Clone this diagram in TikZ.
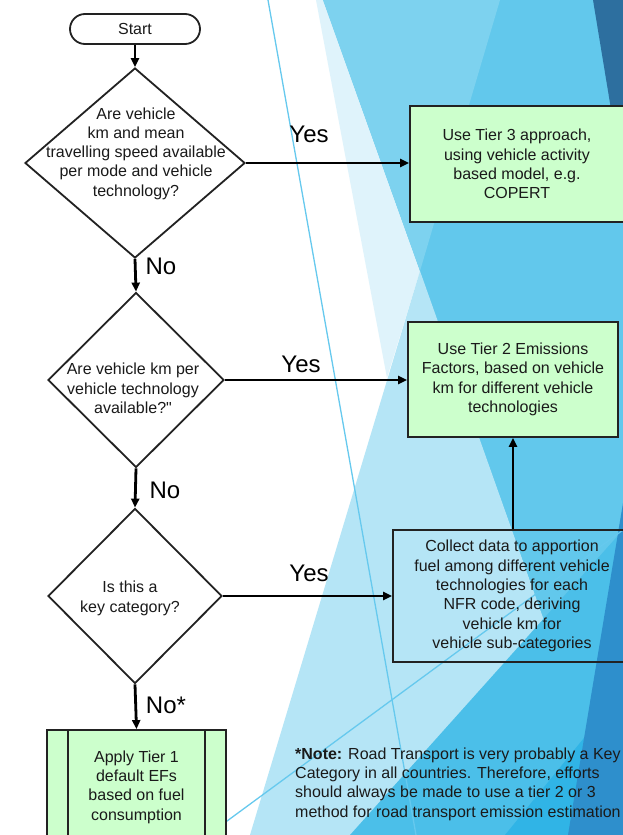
\documentclass[tikz,border=0pt]{standalone}
\usepackage{fontspec}
\setmainfont{Liberation Sans}
\usetikzlibrary{shapes.geometric,arrows.meta}
\definecolor{txt}{HTML}{1A1A1A}
\definecolor{bord}{HTML}{222222}
\definecolor{gfill}{HTML}{CCFFCC}
\definecolor{bgP}{HTML}{DFF3FB}
\definecolor{bgL1}{HTML}{7DD2EF}
\definecolor{bgM}{HTML}{62C8EC}
\definecolor{bgLB}{HTML}{B5E5F6}
\definecolor{bgMB}{HTML}{4BBFE9}
\definecolor{bgMB2}{HTML}{30B4E6}
\definecolor{bgD1}{HTML}{2D6F9F}
\definecolor{bgD2}{HTML}{2E8FCC}
\definecolor{bgLine}{HTML}{66C9EE}
\begin{document}
\begin{tikzpicture}[x=1pt,y=-1pt,
  every node/.style={font=\fontsize{16}{19.3}\selectfont, text=txt},
  dia/.style={draw=bord, line width=1.8pt, shape=diamond, fill=white, inner sep=0pt},
  gbox/.style={draw=bord, line width=1.8pt, fill=gfill, align=center, inner sep=0pt},
  obox/.style={draw=bord, line width=1.8pt, align=center, inner sep=0pt},
  conn/.style={line width=2.8pt, draw=black, -{Triangle[length=9pt,width=8pt]}},
  lab/.style={font=\fontsize{24}{28}\selectfont, text=black},
  dtext/.style={align=center, inner sep=0pt},
  bgline/.style={draw=bgLine, line width=1.3pt},
]
\useasboundingbox (0,0) rectangle (623,835);
\clip (0,0) rectangle (623,835);
% background
\fill[white] (0,0) rectangle (623,835);
\fill[bgM] (323,0) -- (623,0) -- (623,835) -- (620,835) -- cycle;
\fill[bgP] (316,0) -- (323,0) -- (420,271) -- (387,378) -- cycle;
\fill[bgL1] (323,0) -- (500,0) -- (420,271) -- cycle;
\fill[bgLB] (420,271) -- (250,835) -- (620,835) -- cycle;
\fill[bgMB] (350,835) -- (623,530) -- (623,835) -- cycle;
\fill[bgMB2] (505,835) -- (623,690) -- (623,835) -- cycle;
\fill[bgD2] (623,503) -- (623,835) -- (568,835) -- cycle;
\fill[bgD1] (593,0) -- (623,0) -- (623,182) -- cycle;
\draw[bgline] (268,0) -- (416,835);
\draw[bgline] (208,835) -- (623,530);

% nodes
\node[draw=bord, line width=1.8pt, rounded corners=15pt, minimum width=130pt, minimum height=30pt, inner sep=0pt, fill=white] (start) at (135,29) {Start};

\node[dia, minimum width=220pt, minimum height=190pt] (d1) at (135,163) {};
\node[dtext] (d1t) at (136,153.5) {Are vehicle\\km and mean\\travelling speed available\\per mode and vehicle\\technology?};

\node[dia, minimum width=176pt, minimum height=175pt] (d2) at (136,380) {};
\node[dtext] (d2t) at (133,388.5) {Are vehicle km per\\vehicle technology\\available?\textquotedbl};

\node[dia, minimum width=174pt, minimum height=175pt] (d3) at (135,596) {};
\node[dtext] (d3t) at (130,598.5) {Is this a\\key category?};

\node[gbox, minimum width=214pt, minimum height=116pt] (b1) at (517,164) {Use Tier 3 approach,\\using vehicle activity\\based model, e.g.\\COPERT};

\node[gbox, minimum width=210pt, minimum height=115pt] (b2) at (513,379.5) {Use Tier 2 Emissions\\Factors, based on vehicle\\km for different vehicle\\technologies};

\node[obox, minimum width=238pt, minimum height=132pt] (b3) at (512,596) {Collect data to apportion\\fuel among different vehicle\\technologies for each\\NFR code, deriving\\vehicle km for\\vehicle sub-categories};

\node[gbox, minimum width=179pt, minimum height=114pt] (b4) at (136.5,787) {Apply Tier 1\\default EFs\\based on fuel\\consumption};
\draw[draw=bord, line width=1.8pt] ([xshift=22pt]b4.north west) -- ([xshift=22pt]b4.south west);
\draw[draw=bord, line width=1.8pt] ([xshift=-22pt]b4.north east) -- ([xshift=-22pt]b4.south east);

\node[anchor=west, align=left, inner sep=0pt] (note) at (295,784) {\textbf{*Note:} Road Transport is very probably a Key\\Category in all countries. Therefore, efforts\\should always be made to use a tier 2 or 3\\method for road transport emission estimation};

% connectors
\draw[conn] (start.south) -- (d1.north);
\draw[conn] (d1.east) -- (d1.east -| b1.west);
\draw[conn] (d1.south) -- (d2.north);
\draw[conn] (d2.east) -- (d2.east -| b2.west);
\draw[conn] (d2.south) -- (d3.north);
\draw[conn] (d3.east) -- (d3.east -| b3.west);
\draw[conn] (d3.south) -- (b4.north);
\draw[conn] (b2.south |- b3.north) -- (b2.south);

% labels
\node[lab] (yes1) at (309,134) {Yes};
\node[lab] (yes2) at (301,364) {Yes};
\node[lab] (yes3) at (309,573) {Yes};
\node[lab] (no1) at (161,266) {No};
\node[lab] (no2) at (165,490) {No};
\node[lab] (no3) at (166,705) {No*};
\end{tikzpicture}
\end{document}
